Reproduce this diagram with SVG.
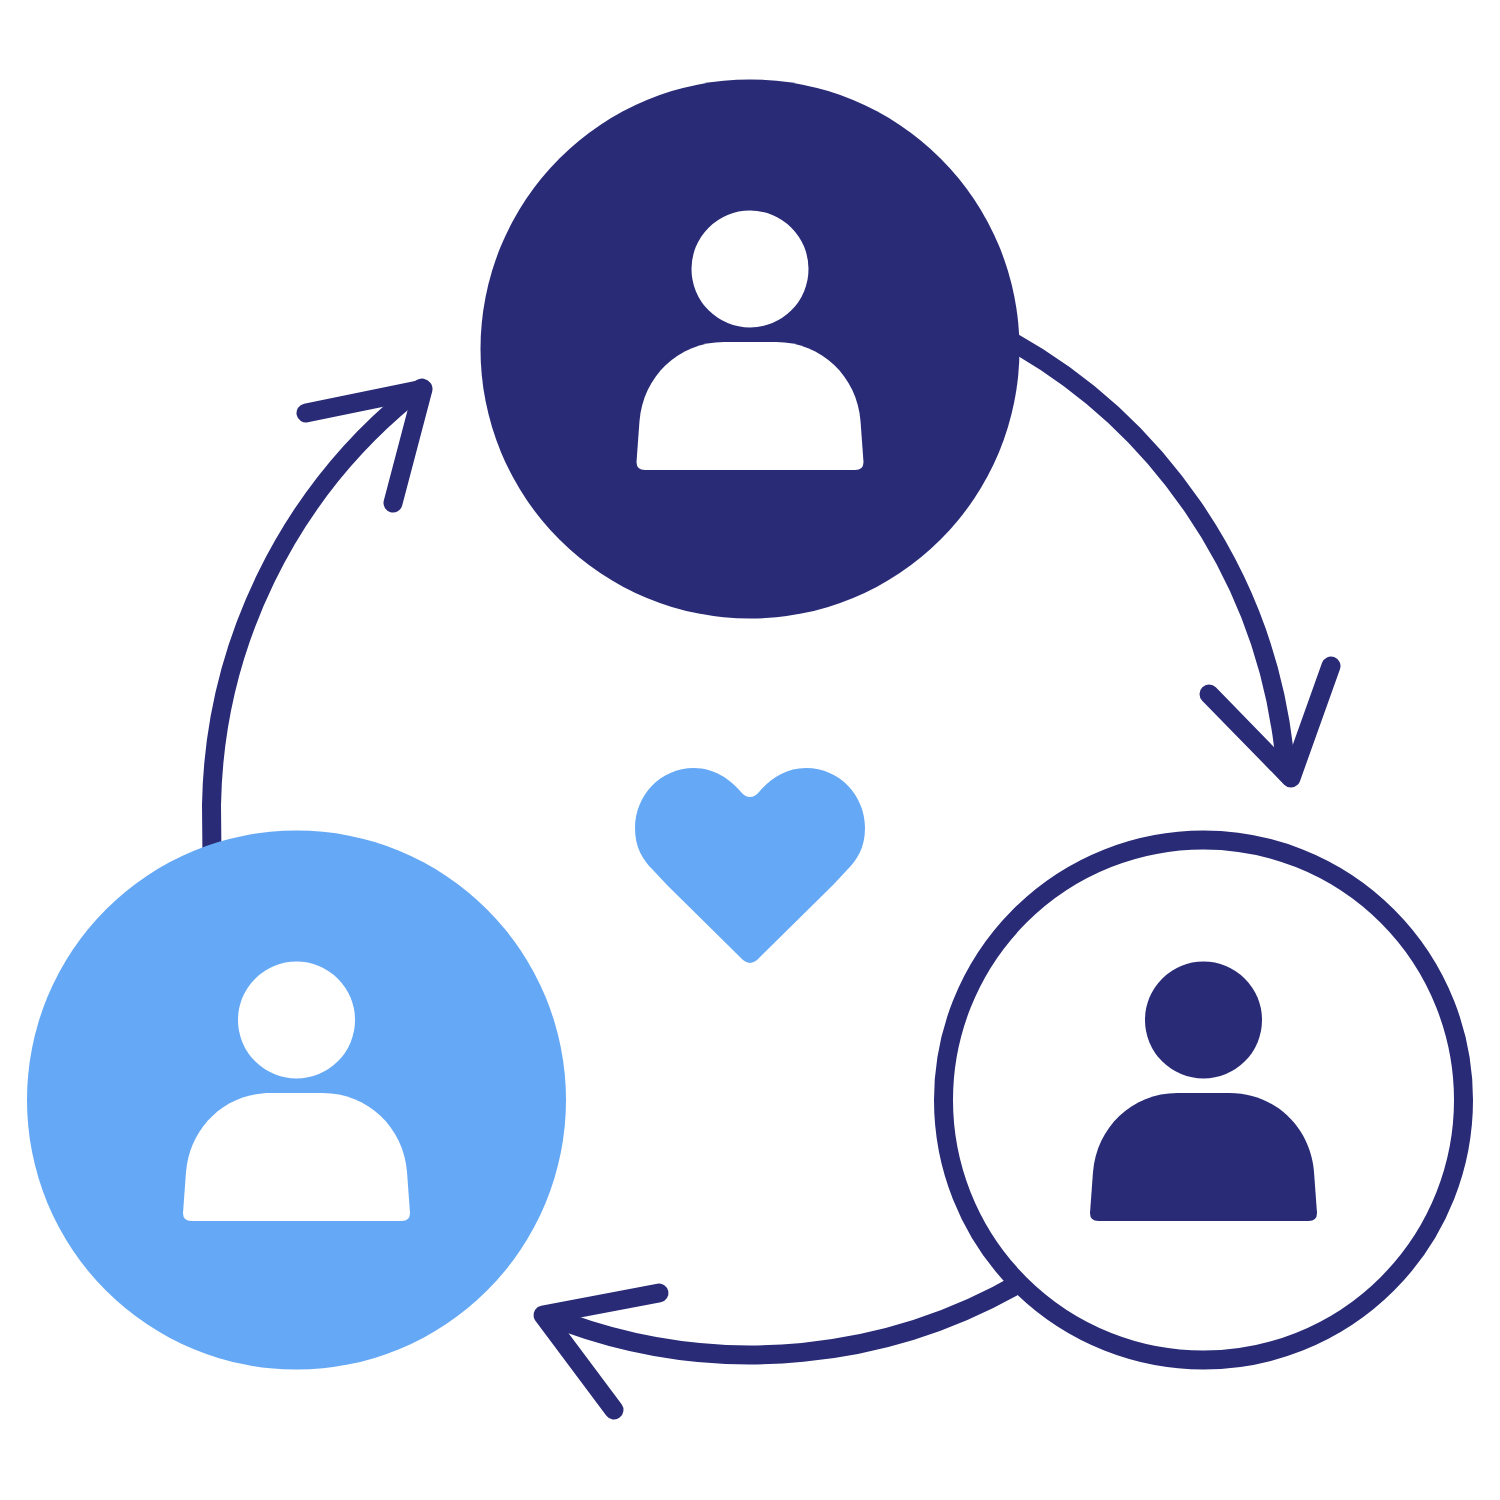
<svg xmlns="http://www.w3.org/2000/svg" width="1500" height="1500" viewBox="0 0 1500 1500">
<style>
.c{fill:none;stroke:#292b77;stroke-width:19;stroke-linecap:round;stroke-linejoin:round}
.navy{fill:#292b77}.sky{fill:#65a8f6}.white{fill:#fff}
</style>
<defs>
<g id="person">
<circle cx="0" cy="-80" r="58.500"/>
<path d="M-26 -7H26C72 -7 107 28 110.500 72L113.500 113Q113.500 121 105 121H-105Q-113.500 121 -113.500 113L-110.500 72C-107 28 -72 -7 -26 -7Z"/>
</g>
</defs>
<rect width="1500" height="1500" fill="#fff"/>
<g id="connectors">
<path class="c" d="M1000 335A540 540 0 0 1 1284 750L1290 776"/>
<path class="c" d="M1209 694L1291 778L1331 666"/>
<path class="c" d="M1030 1277A540 540 0 0 1 565 1322L545 1316"/>
<path class="c" d="M659 1293L543 1315L614 1410"/>
<path class="c" d="M212 860L211.500 805A540 540 0 0 1 410 396L422 388"/>
<path class="c" d="M306 413L423 389L393 503"/>
</g>
<g id="node-top">
<circle class="navy" cx="750" cy="349" r="269.500"/>
<use href="#person" x="750" y="349" class="white"/>
</g>
<g id="node-right">
<circle cx="1203.500" cy="1100" r="260" fill="#fff" stroke="#292b77" stroke-width="19"/>
<use href="#person" x="1203.500" y="1100" class="navy"/>
</g>
<g id="node-left">
<circle class="sky" cx="296.500" cy="1100" r="269.500"/>
<use href="#person" x="296.500" y="1100" class="white"/>
</g>
<g id="heart">
<path class="sky" d="M750 797Q745 797 741 792C730 779 714 768 694 768C660 768 635 796 635 828C635 848 643 860 653 870L667 885L743 960Q750 966 757 960L833 885L847 870C857 860 865 848 865 828C865 796 840 768 806 768C786 768 770 779 759 792Q755 797 750 797Z"/>
</g>
</svg>
